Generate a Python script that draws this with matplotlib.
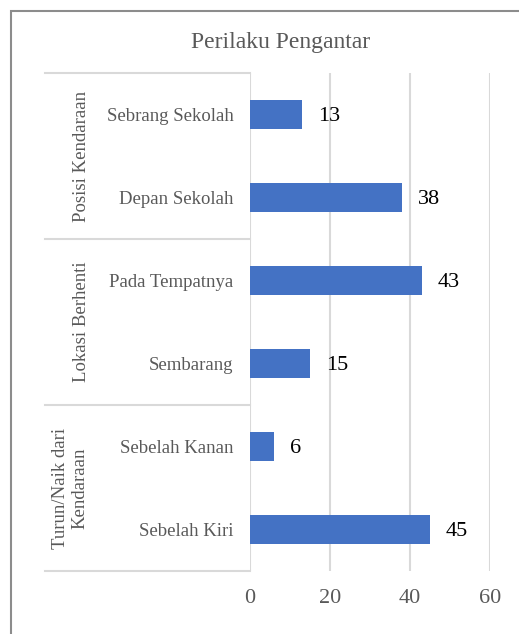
import matplotlib.pyplot as plt
from matplotlib.patches import Rectangle

# data
groups = ['Posisi Kendaraan', 'Lokasi Berhenti', 'Turun/Naik dari\nKendaraan']
items = ['Sebrang Sekolah', 'Depan Sekolah', 'Pada Tempatnya', 'Sembarang',
         'Sebelah Kanan', 'Sebelah Kiri']
values = [13, 38, 43, 15, 6, 45]
per_group = 2
xticks = [0, 20, 40, 60]

plt.rcParams['font.family'] = ['Liberation Serif', 'DejaVu Serif']
gray_txt = '#595959'

fig = plt.figure(figsize=(5.19, 6.34), dpi=100)
ax = fig.add_axes([0.4817, 0.0994, 0.4624, 0.7855])

# outer chart border (top and left visible)
fig.patches.append(Rectangle((11 / 519, -0.1), 1.2, 1 - 11 / 634 + 0.1,
                             transform=fig.transFigure, fill=False,
                             edgecolor='#8c8c8c', linewidth=1.5))

n = len(items)
ypos = list(range(n))
ax.barh(ypos, values, height=0.35, color='#4472C4', zorder=3)
ax.set_ylim(n - 0.5, -0.5)
ax.set_xlim(0, 60)
ax.set_xticks(xticks)
ax.set_yticks(ypos)
ax.set_yticklabels(items)
ax.tick_params(axis='y', length=0, pad=12, labelsize=13.5, labelcolor=gray_txt)
ax.tick_params(axis='x', length=0, pad=13, labelsize=16, labelcolor=gray_txt)
ax.grid(axis='x', color='#d9d9d9', linewidth=1.5, zorder=0)
for s in ax.spines.values():
    s.set_visible(False)

for y, v in zip(ypos, values):
    ax.annotate(str(v), (v, y), xytext=(11.5, 0), textcoords='offset points',
                va='center_baseline', ha='left', fontsize=16, color='black')

# category axis structure
tr = ax.get_yaxis_transform()
x_left = (45 - 250) / 240
for k in range(len(groups) + 1):
    yb = k * per_group - 0.5
    ax.plot([x_left, 0], [yb, yb], transform=tr, color='#d9d9d9',
            linewidth=1.5, clip_on=False)
for k, g in enumerate(groups):
    yc = k * per_group + (per_group - 1) / 2
    xc = (81 - 250) / 240 if '\n' not in g else (70 - 250) / 240
    ax.text(xc, yc, g, transform=tr, rotation=90, ha='center', va='center',
            fontsize=13.5, color=gray_txt, multialignment='center',
            linespacing=1.2)

fig.text(281 / 519, 1 - 48 / 634, 'Perilaku Pengantar', ha='center',
         va='baseline', fontsize=17, color=gray_txt)

fig.savefig('out.png', dpi=100)
